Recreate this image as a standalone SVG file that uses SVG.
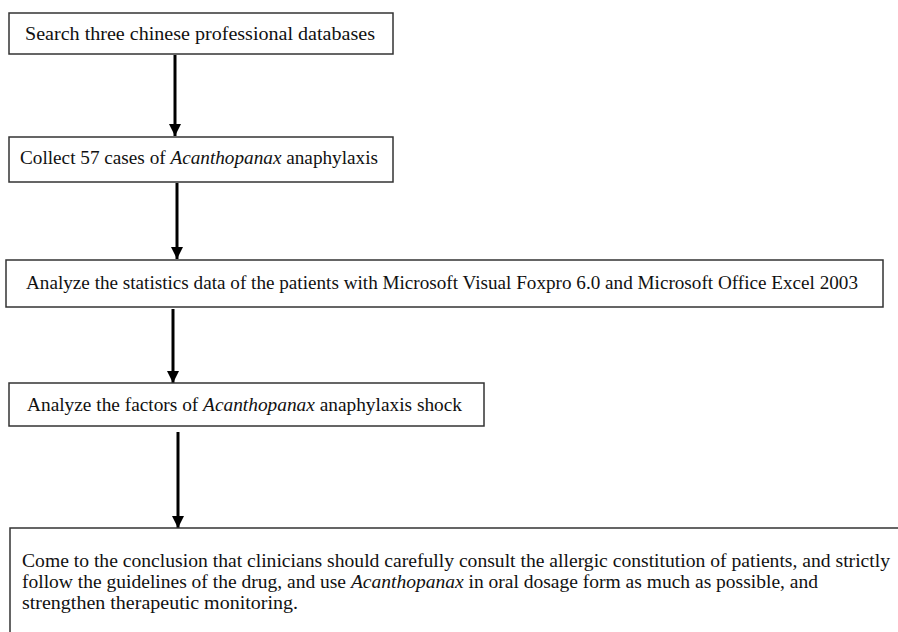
<svg xmlns="http://www.w3.org/2000/svg" width="898" height="632" viewBox="0 0 898 632">
<defs>
<marker id="ah" markerWidth="12" markerHeight="12" refX="12" refY="6" orient="auto" markerUnits="userSpaceOnUse" viewBox="0 0 12 12">
<path d="M0,0 L12,6 L0,12 Z" fill="#000"/>
</marker>
<style>
.box{fill:#fff;stroke:#333;stroke-width:1.5}
.t{font-family:"Liberation Serif","DejaVu Serif",serif;font-size:18px;fill:#111}
.c{stroke:#000;stroke-width:3;fill:none;marker-end:url(#ah)}
</style>
</defs>
<rect width="898" height="632" fill="#fff"/>
<g id="connectors">
<line class="c" x1="175" y1="55" x2="175" y2="136"/>
<line class="c" x1="177" y1="183" x2="177" y2="259"/>
<line class="c" x1="173" y1="309" x2="173" y2="383"/>
<line class="c" x1="178" y1="432" x2="178" y2="528"/>
</g>
<g id="n1">
<rect class="box" x="9" y="13" width="384" height="41"/>
<text class="t" x="25" y="40" textLength="350" lengthAdjust="spacingAndGlyphs">Search three chinese professional databases</text>
</g>
<g id="n2">
<rect class="box" x="9" y="137" width="384" height="45"/>
<text class="t" x="20" y="164" textLength="358" lengthAdjust="spacingAndGlyphs">Collect 57 cases of <tspan font-style="italic">Acanthopanax</tspan> anaphylaxis</text>
</g>
<g id="n3">
<rect class="box" x="6" y="260" width="877" height="47"/>
<text class="t" x="26" y="289" textLength="832" lengthAdjust="spacingAndGlyphs">Analyze the statistics data of the patients with Microsoft Visual Foxpro 6.0 and Microsoft Office Excel 2003</text>
</g>
<g id="n4">
<rect class="box" x="9" y="383" width="475" height="43"/>
<text class="t" x="27" y="411" textLength="435" lengthAdjust="spacingAndGlyphs">Analyze the factors of <tspan font-style="italic">Acanthopanax</tspan> anaphylaxis shock</text>
</g>
<g id="n5">
<rect class="box" x="10" y="528" width="900" height="120"/>
<text class="t" x="22" y="567" textLength="868" lengthAdjust="spacingAndGlyphs">Come to the conclusion that clinicians should carefully consult the allergic constitution of patients, and strictly</text>
<text class="t" x="22" y="588" textLength="796" lengthAdjust="spacingAndGlyphs">follow the guidelines of the drug, and use <tspan font-style="italic">Acanthopanax</tspan> in oral dosage form as much as possible, and</text>
<text class="t" x="22" y="609" textLength="276" lengthAdjust="spacingAndGlyphs">strengthen therapeutic monitoring.</text>
</g>
</svg>
